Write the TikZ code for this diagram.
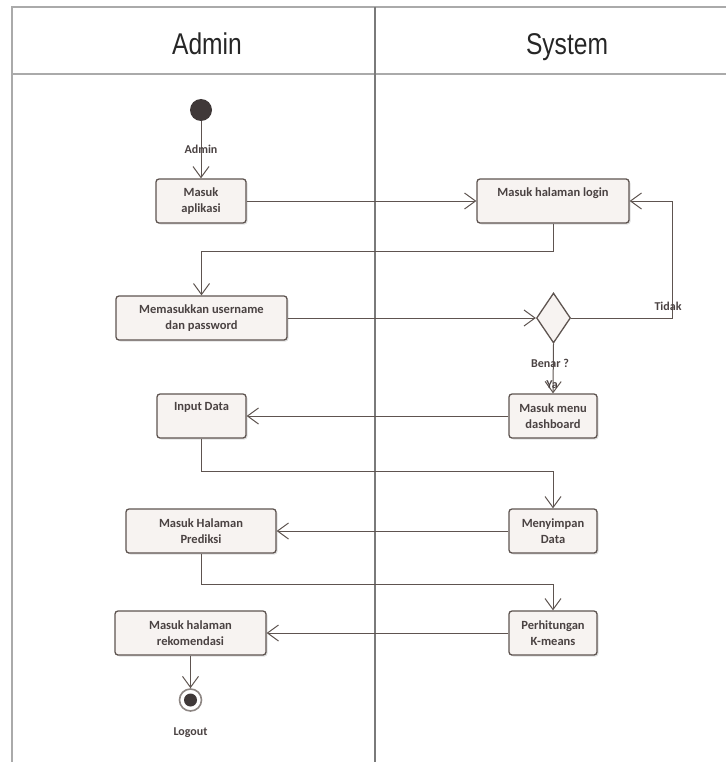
\documentclass[tikz,border=0pt]{standalone}
\usepackage{fontspec}
\usepackage{graphicx}
\setmainfont{Carlito}
\newfontfamily\headfont{Liberation Sans}
\usetikzlibrary{positioning,shapes.geometric,arrows.meta,shadows}

\definecolor{linegray}{HTML}{5E5450}
\definecolor{boxfill}{HTML}{F7F3F1}
\definecolor{framegray}{HTML}{AAAAAA}
\definecolor{lanegray}{HTML}{7A7A7A}
\definecolor{textgray}{HTML}{4A4242}
\definecolor{dotgray}{HTML}{3F3838}

\tikzset{
  action/.style={draw=linegray, line width=1.3pt, fill=boxfill, rounded corners=3pt,
    minimum height=44pt, inner sep=2pt, align=center, text=textgray,
    font=\fontsize{12.5}{16.5}\selectfont\bfseries,
    drop shadow={opacity=0.25, shadow xshift=1.5pt, shadow yshift=-1.5pt}},
  decision/.style={diamond, draw=linegray, line width=1.3pt, fill=boxfill,
    minimum width=34pt, minimum height=50pt, inner sep=0pt},
  flow/.style={draw=linegray, line width=1pt,
    -{Straight Barb[length=11pt,width=16pt,line width=1pt]}},
  lbl/.style={font=\fontsize{12}{14}\selectfont\bfseries, text=textgray},
  lane/.style={line width=1.2pt},
  heading/.style={font=\headfont\fontsize{30}{32}\selectfont, text=black!85, anchor=base},
}

\begin{document}
\begin{tikzpicture}[x=1pt, y=-1pt]
	\useasboundingbox (0,0) rectangle (726,762);

	% Lanes
	\draw[lane, framegray] (12,762) -- (12,7) -- (726,7);
	\draw[lane, framegray] (12,74) -- (726,74);
	\draw[lane, lanegray] (375,7) -- (375,762);
	\node[heading] (admin) at (207,55) {\scalebox{0.82}[1]{Admin}};
	\node[heading] (system) at (567,55) {\scalebox{0.82}[1]{System}};

	% Define nodes
	\node[circle, fill=dotgray, minimum size=22pt, inner sep=0pt] (start) at (201,110) {};
	\node[action, minimum width=90pt] (aplikasi) at (201,201) {Masuk\\aplikasi};
	\node[action, minimum width=152pt] (login) at (553,201) {Masuk halaman login\\\phantom{g}};
	\node[action, minimum width=171pt] (userpass) at (201.5,318) {Memasukkan username\\dan password};
	\node[decision] (decide) at (553.5,318) {};
	\node[action, minimum width=88pt] (dashboard) at (553,416) {Masuk menu\\dashboard};
	\node[action, minimum width=89pt] (inputdata) at (201.5,416) {Input Data\\\phantom{g}};
	\node[action, minimum width=88pt] (simpan) at (553,531) {Menyimpan\\Data};
	\node[action, minimum width=150pt] (prediksi) at (201,531) {Masuk Halaman\\Prediksi};
	\node[action, minimum width=88pt] (kmeans) at (553,633) {Perhitungan\\K-means};
	\node[action, minimum width=151pt] (rekom) at (190.5,633) {Masuk halaman\\rekomendasi};
	\node[circle, draw=linegray!70, line width=1.6pt, fill=white, minimum size=22pt, inner sep=0pt] (end) at (190.5,700) {};
	\node[circle, fill=dotgray, minimum size=13pt, inner sep=0pt] (enddot) at (end) {};
	\node[lbl, below=12pt of end] (logout) {Logout};
	\coordinate (back) at (672,318);

	% Connect the nodes
	\draw[flow] (start) -- node[lbl] {Admin} (aplikasi);
	\draw[flow] (aplikasi) -- (login);
	\draw[flow] (login.south) -- ++(0,28) -| (userpass.north);
	\draw[flow] (userpass) -- (decide);
	\draw[flow] (decide.east) -- (back) |- (login.east);
	\node[lbl] (tidak) at (668,306) {Tidak};
	\draw[flow] (decide.south) -- (dashboard.north);
	\node[lbl] (benar) at (550,363) {Benar ?};
	\node[lbl] (ya) at (552,385) {Ya};
	\draw[flow] (dashboard) -- (inputdata);
	\draw[flow] (inputdata.south) -- ++(0,33) -| (simpan.north);
	\draw[flow] (simpan) -- (prediksi);
	\draw[flow] (prediksi.south) -- ++(0,31) -| (kmeans.north);
	\draw[flow] (kmeans) -- (rekom);
	\draw[flow] (rekom) -- (end);
\end{tikzpicture}
\end{document}
